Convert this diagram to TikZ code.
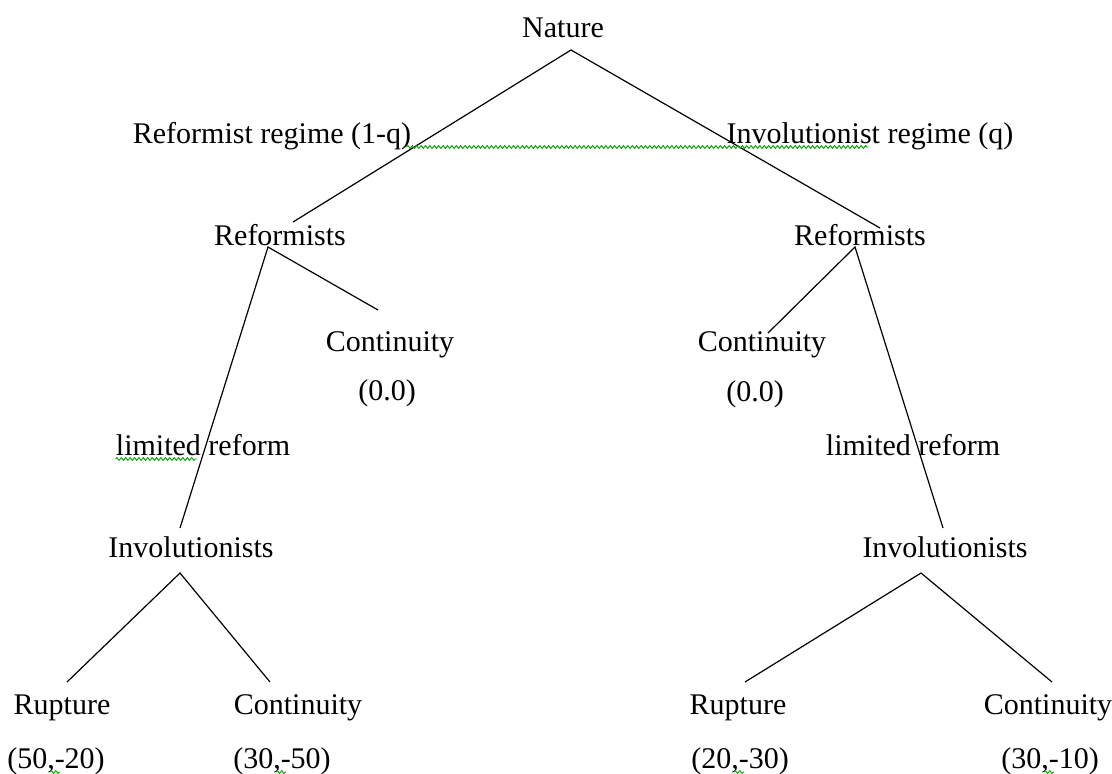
\documentclass[tikz,border=0pt]{standalone}
\usepackage{fontspec}
\setmainfont{Liberation Serif}
\usetikzlibrary{decorations.pathmorphing}
\tikzset{
  lbl/.style={anchor=base, inner sep=0pt, font=\fontsize{15}{18}\selectfont},
  branch/.style={line width=0.6pt},
  spell/.style={draw=green!65!black, line width=0.45pt, decorate,
    decoration={snake, amplitude=0.7pt, segment length=2.2pt}}
}
\begin{document}
\begin{tikzpicture}[x=0.5pt,y=-0.5pt]
\useasboundingbox (0,0) rectangle (1112,773);

% decision points
\coordinate (nat) at (571,50);
\coordinate (refL) at (268,247);
\coordinate (refR) at (855,247);
\coordinate (invL) at (180,573);
\coordinate (invR) at (921,573);
% branch ends
\coordinate (refLin) at (293,222);
\coordinate (refRin) at (880,228);
\coordinate (contLa) at (378,310);
\coordinate (contRa) at (768,333);
\coordinate (invLin) at (180,528);
\coordinate (invRin) at (943,528);
\coordinate (rupLa) at (67,682);
\coordinate (contLb) at (270,682);
\coordinate (rupRa) at (745,682);
\coordinate (contRb) at (1052,682);

% labels
\node[lbl] (nature) at (563,37) {Nature};
\node[lbl] (regL) at (272,143) {Reformist regime (1-q)};
\node[lbl] (regR) at (870,143) {Involutionist regime (q)};
\node[lbl] (reformL) at (280,245) {Reformists};
\node[lbl] (reformR) at (860,245) {Reformists};
\node[lbl] (contL) at (390,351) {Continuity};
\node[lbl] (contR) at (762,351) {Continuity};
\node[lbl] (payL) at (387,400) {(0.0)};
\node[lbl] (payR) at (755,401) {(0.0)};
\node[lbl] (limL) at (203,455) {limited reform};
\node[lbl] (limR) at (913,455) {limited reform};
\node[lbl] (involL) at (191,557) {Involutionists};
\node[lbl] (involR) at (945,557) {Involutionists};
\node[lbl] (rupL) at (62,714) {Rupture};
\node[lbl] (cntL) at (298,714) {Continuity};
\node[lbl] (rupR) at (738,714) {Rupture};
\node[lbl] (cntR) at (1048,714) {Continuity};
\node[lbl] (pay1) at (56,768) {(50,-20)};
\node[lbl] (pay2) at (282,768) {(30,-50)};
\node[lbl] (pay3) at (740,768) {(20,-30)};
\node[lbl] (pay4) at (1050,768) {(30,-10)};

% branches
\draw[branch] (refLin) -- (nat) -- (refRin);
\draw[branch] (invLin) -- (refL) -- (contLa);
\draw[branch] (contRa) -- (refR) -- (invRin);
\draw[branch] (rupLa) -- (invL) -- (contLb);
\draw[branch] (rupRa) -- (invR) -- (contRb);

% spell-check marks
\draw[spell] (regL.base east) ++(-5,4) -- ++(462,0);
\draw[spell] (limL.base west) ++(0,4) -- ++(81,0);
\foreach \p in {pay1,pay2,pay3,pay4}
  \draw[spell] (\p.base) ++(-6,4) -- ++(10,0);
\end{tikzpicture}
\end{document}
